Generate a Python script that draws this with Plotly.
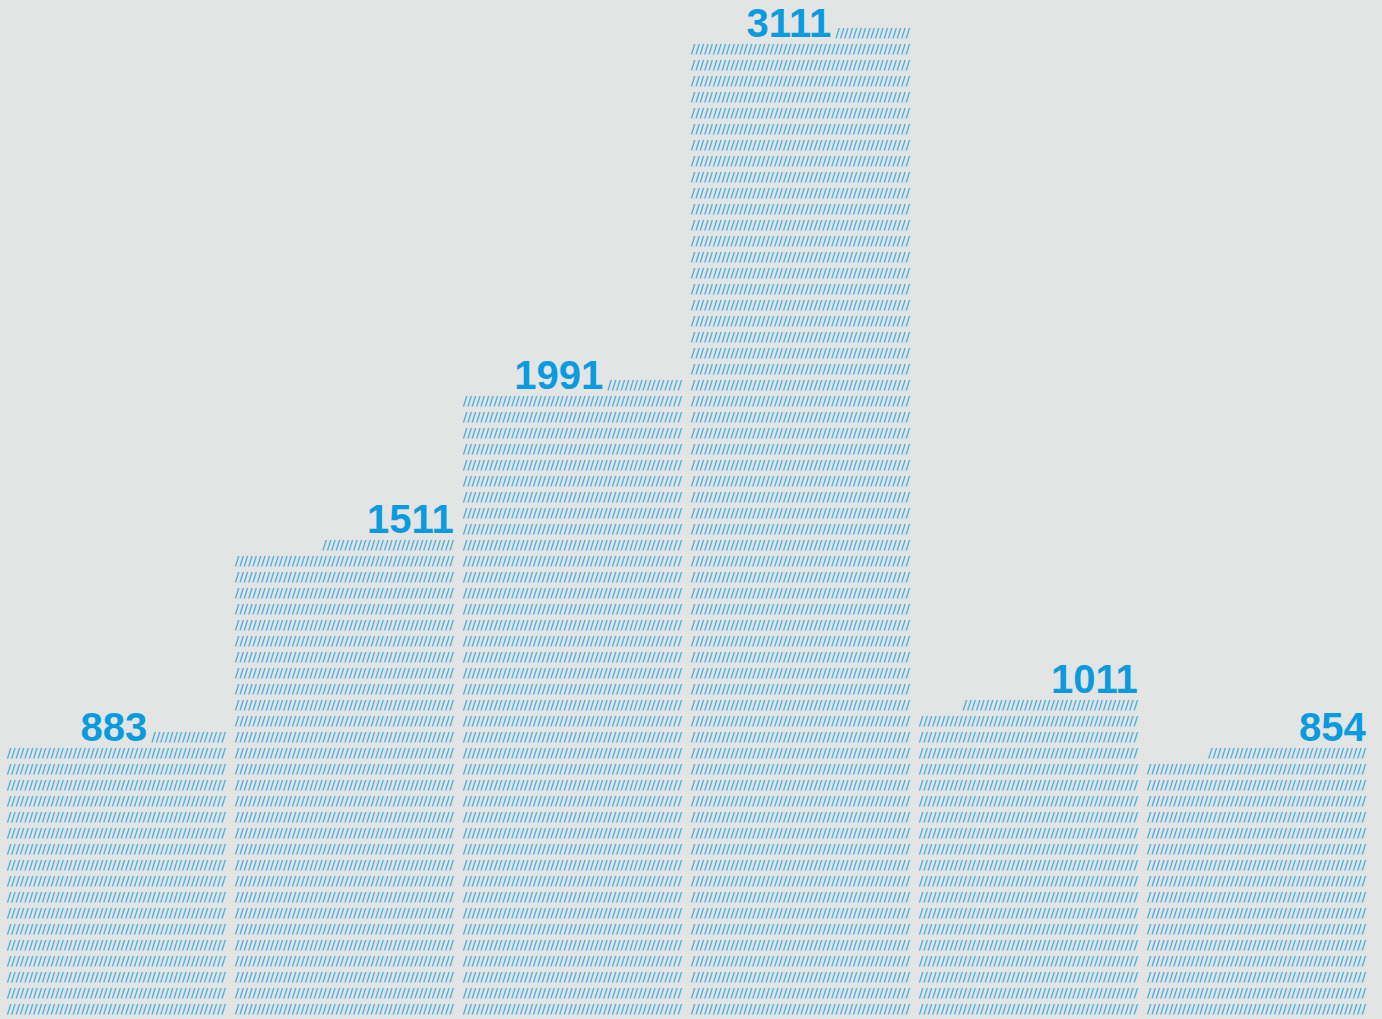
import plotly.graph_objects as go

# valeurs affichées au-dessus de chaque colonne
values = [883, 1511, 1991, 3111, 1011, 854]
labels = ["883", "1511", "1991", "3111", "1011", "854"]
# nombre de "/" visibles sur la ligne du haut
top_row_slashes = [17, 30, 17, 17, 40, 36]

UNIT = 50          # une ligne de "/" = 50 unités
ROW_LEN = 50       # "/" par ligne pleine
HALF = 0.475       # demi-largeur d'une colonne (axe x)

BG = "#e3e4e4"
SLASH_COLOR = "#27a5e1"
LABEL_COLOR = "#0a9bdf"
SLASH_FONT = 13
LABEL_FONT = 40


def label_span(txt):
    return (
        f'<span style="font-family:Liberation Sans,Arial;font-size:{LABEL_FONT}px;'
        f'font-weight:bold;color:{LABEL_COLOR}">{txt}</span>'
    )


fig = go.Figure()

for i, (val, lab, n_top) in enumerate(zip(values, labels, top_row_slashes)):
    n_rows = round(val / UNIT)
    ys, texts = [], []
    for k in range(n_rows - 1):
        ys.append((k + 0.5) * UNIT)
        texts.append("/" * ROW_LEN)

    # largeur approx. en px : étiquette + espace + barres partielles vs colonne
    lab_w = len(lab) * 0.556 * LABEL_FONT
    part_w = n_top * 0.337 * SLASH_FONT
    inline = lab_w + 0.318 * SLASH_FONT + part_w <= ROW_LEN * 0.337 * SLASH_FONT

    top_y = (n_rows - 0.5) * UNIT
    if inline:
        ys.append(top_y)
        texts.append(label_span(lab) + " " + "/" * n_top)
    else:
        ys.append(top_y)
        texts.append("/" * n_top)
        ys.append(top_y + UNIT)
        texts.append(label_span(lab))

    fig.add_trace(
        go.Scatter(
            x=[i + HALF] * len(ys),
            y=ys,
            mode="text",
            text=texts,
            textposition="middle left",
            textfont={"family": "DejaVu Sans", "size": SLASH_FONT, "color": SLASH_COLOR},
            hoverinfo="skip",
            showlegend=False,
        )
    )

fig.update_layout(
    width=1382,
    height=1019,
    margin={"l": 0, "r": 0, "t": 0, "b": 0},
    paper_bgcolor=BG,
    plot_bgcolor=BG,
    showlegend=False,
)
fig.update_xaxes(range=[-0.515, 5.546], visible=False, showgrid=False, zeroline=False)
fig.update_yaxes(range=[-3.1, 3181.2], visible=False, showgrid=False, zeroline=False)

fig.write_html(
    "out.html",
    config={"displayModeBar": False},
    post_script="document.body.style.margin='0';",
)
